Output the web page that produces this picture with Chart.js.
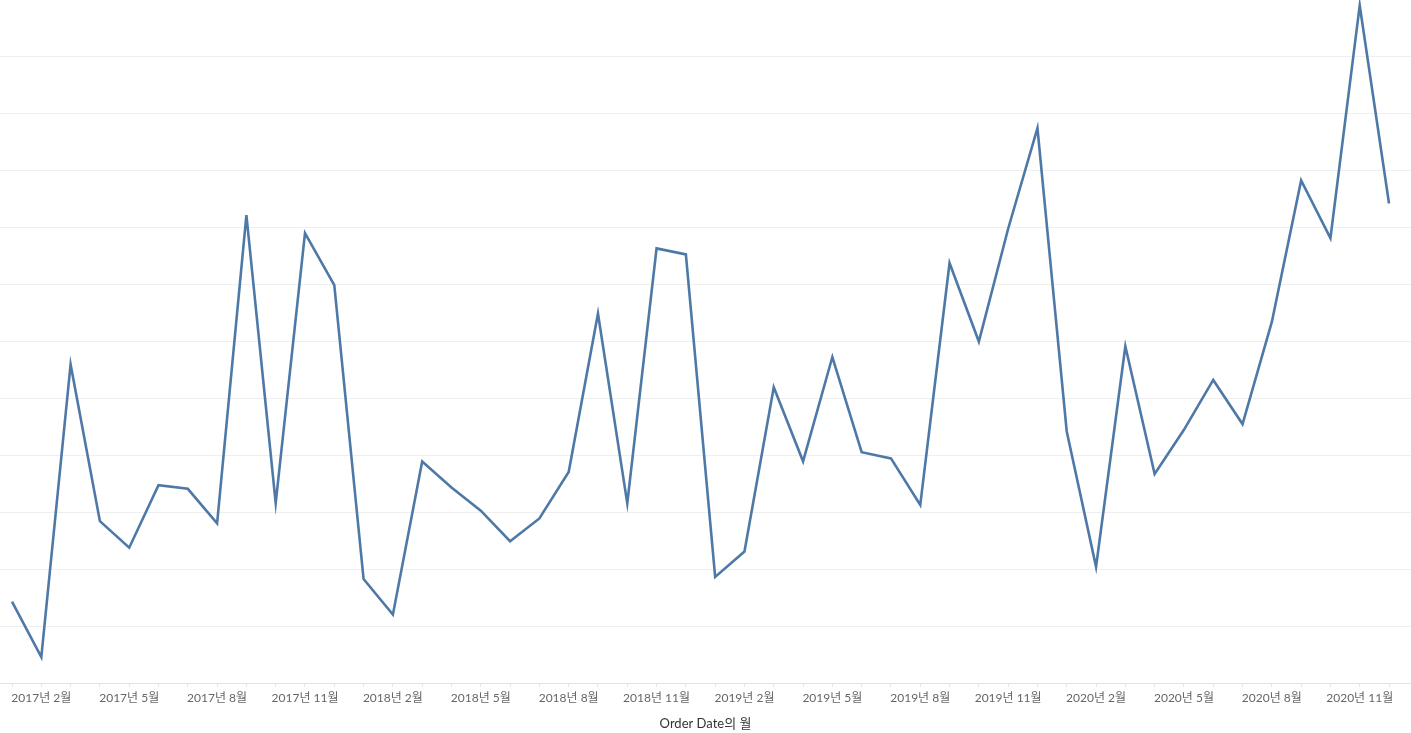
<!DOCTYPE html>
<html>
<head>
<meta charset="utf-8">
<script src="https://cdn.jsdelivr.net/npm/chart.js@4"></script>
<style>
    body { margin: 0; background: #fff; }
    #wrap { width: 1411px; height: 733px; position: relative; }
</style>
</head>
<body>
<div id="wrap"><canvas id="salesChart"></canvas></div>
<script>
// monthly sales, Jan..Dec
const years = [2017, 2018, 2019, 2020];
const sales2017 = [14237, 4520, 55691, 28295, 23648, 34595, 33946, 27909, 81777, 31453, 78629, 69546];
const sales2018 = [18174, 11951, 38726, 34195, 30132, 24797, 28765, 36898, 64596, 31405, 75973, 74920];
const sales2019 = [18542, 22979, 51716, 38750, 56988, 40345, 39262, 31115, 73410, 59688, 79412, 96999];
const sales2020 = [43971, 20301, 58872, 36522, 44261, 52982, 45264, 63121, 87867, 77777, 118448, 83829];
const tickMonths = [2, 5, 8, 11];

const allSales = [].concat(sales2017, sales2018, sales2019, sales2020);
const monthLabels = [];
years.forEach(y => {
    for (let m = 1; m <= 12; m++) monthLabels.push(y + '년 ' + m + '월');
});

const points = allSales.map((v, i) => ({ x: i, y: v }));
const fontFamily = 'Lato, "Noto Sans CJK KR", sans-serif';
const yMax = 119400;

const config = {
    type: 'line',
    data: {
        datasets: [{
            data: points,
            borderColor: '#4e79a7',
            borderWidth: 2.6,
            pointRadius: 0,
            tension: 0,
            fill: false
        }]
    },
    options: {
        responsive: true,
        maintainAspectRatio: false,
        animation: false,
        layout: { padding: { top: -3.5, left: 0, right: 0, bottom: 0 } },
        plugins: {
            legend: { display: false },
            tooltip: { enabled: false }
        },
        scales: {
            x: {
                type: 'linear',
                min: -0.41,
                max: 47.75,
                afterBuildTicks: scale => {
                    scale.ticks = monthLabels.map((_, i) => ({ value: i }));
                },
                ticks: {
                    autoSkip: false,
                    maxRotation: 0,
                    padding: 4,
                    color: '#666666',
                    font: { family: fontFamily, size: 12 },
                    callback: function (value) {
                        const m = (value % 12) + 1;
                        return tickMonths.includes(m) ? monthLabels[value] : '';
                    }
                },
                grid: {
                    drawOnChartArea: false,
                    drawTicks: true,
                    tickLength: 4,
                    tickColor: '#e6e6e6'
                },
                border: { display: true, color: '#e3e3e3', width: 1 },
                title: {
                    display: true,
                    text: 'Order Date의 월',
                    color: '#333333',
                    font: { family: fontFamily, size: 13 },
                    padding: { top: 7, bottom: 1 }
                }
            },
            y: {
                min: 0,
                max: yMax,
                afterFit: scale => { scale.width = 0; },
                ticks: { display: false, stepSize: 10000 },
                grid: {
                    color: c => (c.tick && c.tick.value < yMax - 1000) ? '#efefef' : 'rgba(255,255,255,0)',
                    drawTicks: false
                },
                border: { display: false }
            }
        }
    }
};

const ctx = document.getElementById('salesChart').getContext('2d');
new Chart(ctx, config);
</script>
</body>
</html>
